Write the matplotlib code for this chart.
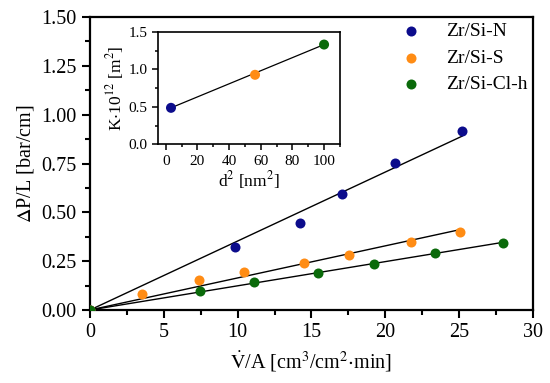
import matplotlib
matplotlib.use("Agg")
import matplotlib.pyplot as plt
import numpy as np
from matplotlib.ticker import MultipleLocator

plt.rcParams['font.family'] = ['Liberation Serif', 'DejaVu Serif']
plt.rcParams['mathtext.fontset'] = 'stix'

# Main data: flow rate vs pressure drop
n_x = [0, 9.85, 14.2, 17.1, 20.65, 25.2]
n_y = [0, 0.322, 0.447, 0.594, 0.754, 0.917]
s_x = [0, 3.5, 7.38, 10.4, 14.5, 17.55, 21.75, 25.05]
s_y = [0, 0.081, 0.152, 0.197, 0.242, 0.282, 0.347, 0.399]
c_x = [0, 7.43, 11.1, 15.46, 19.25, 23.4, 27.94]
c_y = [0, 0.096, 0.143, 0.188, 0.237, 0.293, 0.343]
labels = ['Zr/Si-N', 'Zr/Si-S', 'Zr/Si-Cl-h']
colors = ['#0c0c8c', '#ff8c14', '#0a6a0a']

# Inset data: permeability vs pore size squared
d2 = [3.3, 56.4, 100]
perm = [0.487, 0.927, 1.33]

fig = plt.figure(figsize=(5.5, 3.83), dpi=100)
ax = fig.add_axes([0.1636, 0.1906, 0.8054, 0.765])

for xs, ys, lab, col in zip([n_x, s_x, c_x], [n_y, s_y, c_y], labels, colors):
    xs = np.array(xs)
    ys = np.array(ys)
    slope = np.sum(xs * ys) / np.sum(xs * xs)   # linear fit through origin
    ax.plot([0, xs.max()], [0, slope * xs.max()], color='black', lw=1, zorder=2)
    ax.scatter(xs, ys, s=52, color=col, label=lab, zorder=3, linewidths=0)

ax.set_xlim(0, 30)
ax.set_ylim(0, 1.5)
ax.xaxis.set_major_locator(MultipleLocator(5))
ax.xaxis.set_minor_locator(MultipleLocator(2.5))
ax.yaxis.set_major_locator(MultipleLocator(0.25))
ax.yaxis.set_minor_locator(MultipleLocator(0.125))
ax.yaxis.set_major_formatter(matplotlib.ticker.FormatStrFormatter('%.2f'))
ax.tick_params(which='major', direction='out', length=6, width=1.5, labelsize=14.5)
ax.tick_params(which='minor', direction='out', length=3.5, width=1.5)
for sp in ax.spines.values():
    sp.set_linewidth(1.6)
ax.set_xlabel(r'$\dot{\mathrm{V}}$/A [cm$^3$/cm$^2$$\cdot$min]', fontsize=14.5, labelpad=5)
ax.set_ylabel(r'$\Delta$P/L [bar/cm]', fontsize=14.5, labelpad=4)
ax.legend(loc='upper right', frameon=False, fontsize=14, handletextpad=1.0,
          labelspacing=0.45, borderaxespad=0.0, borderpad=0.3,
          markerscale=1.0, handlelength=1.6)

# Inset
ins = fig.add_axes([0.287, 0.623, 0.331, 0.294])
ins.plot([d2[0], d2[-1]], [perm[0], perm[-1]], color='black', lw=0.9, zorder=2)
ins.scatter(d2, perm, s=52, color=colors, zorder=3, linewidths=0)
ins.set_xlim(-5, 110)
ins.set_ylim(0, 1.5)
ins.xaxis.set_major_locator(MultipleLocator(20))
ins.xaxis.set_minor_locator(MultipleLocator(10))
ins.yaxis.set_major_locator(MultipleLocator(0.5))
ins.yaxis.set_minor_locator(MultipleLocator(0.25))
ins.tick_params(which='major', direction='out', length=4, width=1.1, labelsize=11)
ins.tick_params(which='minor', direction='out', length=2.5, width=1.1)
for sp in ins.spines.values():
    sp.set_linewidth(1.2)
ins.set_xlabel(r'd$^2$ [nm$^2$]', fontsize=12.5, labelpad=1)
ins.set_ylabel(r'K$\cdot$10$^{12}$ [m$^2$]', fontsize=12.5, labelpad=2)

fig.savefig('out.png', dpi=100)
